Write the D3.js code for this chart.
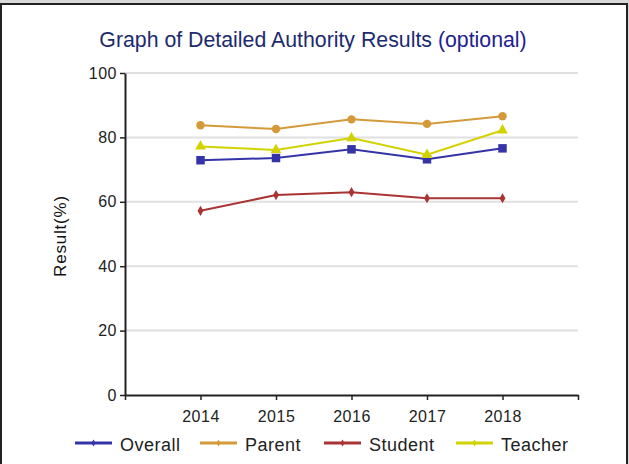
<!DOCTYPE html>
<html>
<head>
<meta charset="utf-8">
<script src="https://cdn.jsdelivr.net/npm/d3@7"></script>
<style>
  html, body { margin: 0; padding: 0; background: #d9d9d9; }
  #app { width: 629px; height: 464px; overflow: hidden; }
  text { font-family: "Liberation Sans", Arial, sans-serif; }
</style>
</head>
<body>
<div id="app"></div>
<script>
const years = [2014, 2015, 2016, 2017, 2018];
const overall = [72.9, 73.6, 76.3, 73.2, 76.6];
const parent = [83.8, 82.6, 85.6, 84.2, 86.6];
const student = [57.2, 62.1, 63.0, 61.1, 61.1];
const teacher = [77.2, 76.1, 79.8, 74.6, 82.2];
const yTicks = [0, 20, 40, 60, 80, 100];

const seriesList = [
  { name: "Overall", values: overall, color: "#3434a8", symbol: d3.symbolSquare, size: 72 },
  { name: "Parent", values: parent, color: "#d49a3a", symbol: d3.symbolCircle, size: 56 },
  { name: "Student", values: student, color: "#a83434", symbol: d3.symbolDiamond, size: 30 },
  { name: "Teacher", values: teacher, color: "#d2d200", symbol: d3.symbolTriangle, size: 50 }
];

const screen = { width: 629, height: 464 };
const plot = { left: 125, right: 578, top: 73, bottom: 395 };

const svg = d3
  .create("svg")
  .attr("width", screen.width)
  .attr("height", screen.height);

// frame
svg
  .append("rect")
  .attr("x", 1)
  .attr("y", 4)
  .attr("width", 626)
  .attr("height", 480)
  .attr("fill", "#fff")
  .attr("stroke", "#222")
  .attr("stroke-width", 2);

svg
  .append("text")
  .attr("x", 313)
  .attr("y", 47)
  .attr("text-anchor", "middle")
  .attr("fill", "#1c2a6e")
  .style("font-size", "21.3px")
  .text("Graph of Detailed Authority Results ")
  .append("tspan")
  .attr("fill", "#22208e")
  .text("(optional)");

const x = d3
  .scaleLinear()
  .domain([2013, 2019])
  .range([plot.left, plot.right]);

const y = d3
  .scaleLinear()
  .domain([0, 100])
  .range([plot.bottom, plot.top]);

// gridlines
svg
  .append("g")
  .selectAll("line")
  .data(yTicks.filter((d) => d > 0))
  .enter()
  .append("line")
  .attr("x1", plot.left)
  .attr("x2", plot.right)
  .attr("y1", (d) => y(d))
  .attr("y2", (d) => y(d))
  .attr("stroke", "#e0e0e0")
  .attr("stroke-width", 2);

const yAxis = svg
  .append("g")
  .attr("transform", `translate(${plot.left},0)`)
  .call(d3.axisLeft(y).tickValues(yTicks).tickSize(5).tickPadding(3).tickSizeOuter(0));

const xAxis = svg
  .append("g")
  .attr("transform", `translate(0,${plot.bottom})`)
  .call(
    d3.axisBottom(x)
      .tickValues(d3.range(2013, 2020))
      .tickFormat((d) => (years.includes(d) ? String(d) : ""))
      .tickSize(5)
      .tickPadding(7)
      .tickSizeOuter(0)
  );

[yAxis, xAxis].forEach((axis) => {
  axis.select(".domain").attr("stroke", "#222").attr("stroke-width", 2);
  axis.selectAll(".tick line").attr("stroke", "#222").attr("stroke-width", 1.5);
  axis
    .selectAll(".tick text")
    .attr("fill", "#222")
    .style("font-family", "'Liberation Sans', Arial, sans-serif")
    .style("font-size", "16px")
    .style("letter-spacing", "0.5px");
});
xAxis.selectAll(".tick text").attr("dy", "0.95em");

svg
  .append("text")
  .attr("transform", "translate(66,236) rotate(-90)")
  .attr("text-anchor", "middle")
  .attr("fill", "#111")
  .style("font-size", "17px")
  .style("letter-spacing", "0.8px")
  .text("Result(%)");

const line = d3
  .line()
  .x((d, i) => x(years[i]))
  .y((d) => y(d));

const series = svg
  .append("g")
  .selectAll("g")
  .data(seriesList)
  .enter()
  .append("g");

series
  .append("path")
  .attr("d", (s) => line(s.values))
  .attr("fill", "none")
  .attr("stroke", (s) => s.color)
  .attr("stroke-width", 2);

series
  .selectAll("path.marker")
  .data((s) => s.values.map((v, i) => ({ s, v, year: years[i] })))
  .enter()
  .append("path")
  .attr("class", "marker")
  .attr("transform", (d) => `translate(${x(d.year)},${y(d.v)})`)
  .attr("d", (d) => d3.symbol().type(d.s.symbol).size(d.s.size)())
  .attr("fill", (d) => d.s.color);

// legend
const legendX = [75, 200, 324, 456];
const legend = svg
  .append("g")
  .selectAll("g")
  .data(seriesList)
  .enter()
  .append("g")
  .attr("transform", (d, i) => `translate(${legendX[i]},443)`);

legend
  .append("line")
  .attr("x1", 0)
  .attr("x2", 37)
  .attr("stroke", (d) => d.color)
  .attr("stroke-width", 3);

legend
  .append("path")
  .attr("transform", "translate(18.5,0)")
  .attr("d", d3.symbol().type(d3.symbolDiamond).size(14)())
  .attr("fill", (d) => d.color);

legend
  .append("text")
  .attr("x", 45)
  .attr("y", 8)
  .attr("fill", "#222")
  .style("font-size", "18px")
  .style("letter-spacing", "0.5px")
  .text((d) => d.name);

document.getElementById("app").append(svg.node());
</script>
</body>
</html>
